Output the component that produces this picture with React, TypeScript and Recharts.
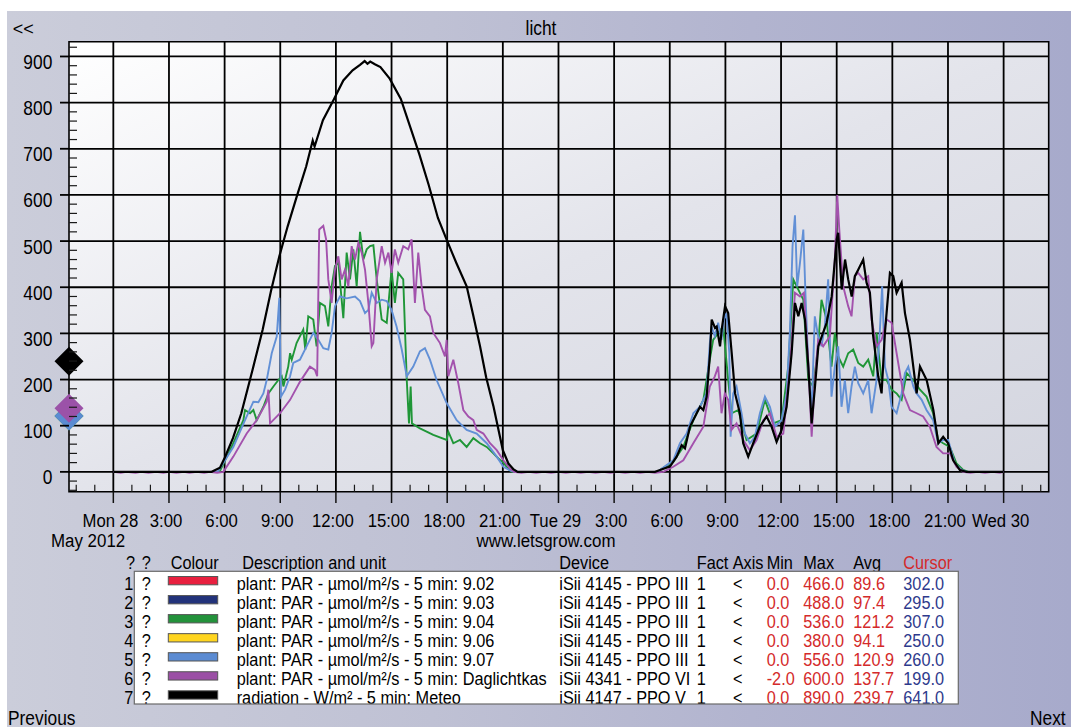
import React from 'react';
import { LineChart, Line, XAxis, YAxis, CartesianGrid, ReferenceDot, ReferenceArea } from 'recharts';

const FONT = '"Liberation Sans", Arial, Helvetica, sans-serif';

// ---------- axes ----------
const xDomain: [number, number] = [-2.39, 50.43];
const yDomain: [number, number] = [-43, 932];
const xTicks = [-2, -1, 0, 1, 2, 3, 4, 5, 6, 7, 8, 9, 10, 11, 12, 13, 14, 15, 16, 17, 18, 19, 20, 21, 22, 23, 24, 25, 26, 27, 28, 29, 30, 31, 32, 33, 34, 35, 36, 37, 38, 39, 40, 41, 42, 43, 44, 45, 46, 47, 48, 49, 50];
const xMajorHours = [0, 3, 6, 9, 12, 15, 18, 21, 24, 27, 30, 33, 36, 39, 42, 45, 48];
const xMajorLabels = ['Mon 28', '3:00', '6:00', '9:00', '12:00', '15:00', '18:00', '21:00', 'Tue 29', '3:00', '6:00', '9:00', '12:00', '15:00', '18:00', '21:00', 'Wed 30'];
const yTicks = [-40, -20, 0, 20, 40, 60, 80, 100, 120, 140, 160, 180, 200, 220, 240, 260, 280, 300, 320, 340, 360, 380, 400, 420, 440, 460, 480, 500, 520, 540, 560, 580, 600, 620, 640, 660, 680, 700, 720, 740, 760, 780, 800, 820, 840, 860, 880, 900, 920];
const yMajor = [0, 100, 200, 300, 400, 500, 600, 700, 800, 900];

// ---------- series (hours since Mon 28 00:00, value) ----------
const radiation: [number, number][] = [
  [0, 0], [3, 0], [5.3, 0], [5.5, 4], [5.75, 9], [6.0, 30], [6.45, 73], [6.9, 127], [7.5, 220], [8.05, 308], [8.5, 392], [8.95, 467],
  [9.4, 532], [9.9, 598], [10.4, 662], [10.75, 718], [10.85, 705], [11.3, 762], [11.9, 808], [12.4, 848], [12.9, 870], [13.3, 882],
  [13.55, 890], [13.7, 884], [13.85, 889], [14.1, 883], [14.4, 877], [14.9, 852], [15.5, 808], [16.0, 748], [16.5, 688], [17.0, 622],
  [17.5, 550], [17.97, 503], [18.5, 452], [19.05, 402], [19.4, 340], [19.77, 272], [20.1, 205], [20.5, 141], [21.0, 47], [21.3, 18],
  [21.56, 6], [21.8, 0], [24, 0], [27, 0], [29.2, 0],
  [29.48, 4], [30.02, 12], [30.37, 33], [30.64, 58], [30.82, 51], [31.09, 98], [31.45, 127], [31.63, 141], [31.81, 134], [31.99, 163],
  [32.17, 257], [32.26, 330], [32.44, 312], [32.53, 315], [32.71, 272], [32.8, 308], [32.98, 359], [33.15, 344], [33.34, 257],
  [33.52, 170], [33.78, 127], [33.96, 62], [34.23, 33], [34.5, 62], [34.86, 98], [35.22, 120], [35.49, 98], [35.76, 65], [36.03, 91],
  [36.3, 141], [36.57, 257], [36.75, 366], [36.93, 337], [37.11, 366], [37.29, 330], [37.47, 228], [37.65, 105], [37.83, 185],
  [38.01, 272], [38.19, 293], [38.46, 323], [38.73, 380], [39.0, 504], [39.08, 518], [39.27, 395], [39.45, 460], [39.62, 417],
  [39.81, 380], [39.98, 424], [40.16, 438], [40.43, 460], [40.61, 410], [40.79, 388], [40.97, 293], [41.24, 207], [41.42, 170],
  [41.6, 301], [41.87, 431], [42.05, 424], [42.23, 388], [42.5, 410], [42.68, 344], [42.95, 286], [43.31, 170], [43.49, 228],
  [43.85, 199], [44.21, 134], [44.48, 62], [44.74, 76], [45.01, 62], [45.28, 25], [45.64, 4], [46.0, 0], [48, 0],
];

const par907: [number, number][] = [
  [0, 0], [5.6, 0], [5.66, 2], [6.47, 54], [7.1, 112], [7.55, 152], [7.82, 151], [8.09, 170], [8.27, 199], [8.54, 257], [8.81, 293],
  [8.95, 377], [9.04, 163], [9.26, 178], [9.53, 207], [9.7, 236], [10.06, 243], [10.42, 272], [10.78, 301], [11.05, 286], [11.32, 268],
  [11.59, 265], [11.77, 301], [11.95, 359], [12.22, 380], [12.58, 376], [13.03, 380], [13.3, 370], [13.57, 344], [13.75, 351],
  [13.93, 388], [14.2, 366], [14.47, 373], [14.74, 370], [15.0, 351], [15.27, 315], [15.55, 265], [15.82, 207], [16.17, 228],
  [16.53, 261], [16.8, 268], [17.07, 243], [17.43, 199], [17.97, 149], [18.51, 112], [19.05, 91], [19.59, 83], [20.13, 62],
  [20.67, 33], [21.03, 11], [21.39, 3], [21.6, 0], [29.4, 0],
  [29.47, 4], [30.19, 25], [30.55, 62], [30.91, 83], [31.27, 127], [31.63, 141], [31.98, 170], [32.16, 279], [32.25, 315],
  [32.43, 294], [32.61, 323], [32.79, 286], [32.92, 330], [33.06, 344], [33.21, 257], [33.28, 76], [33.42, 170], [33.6, 185],
  [33.87, 127], [34.05, 83], [34.32, 62], [34.59, 76], [34.86, 127], [35.13, 163], [35.4, 141], [35.67, 98], [36.03, 112],
  [36.3, 170], [36.48, 308], [36.62, 489], [36.75, 556], [36.87, 402], [37.02, 453], [37.2, 525], [37.32, 380], [37.47, 228],
  [37.65, 134], [37.82, 337], [38.0, 294], [38.18, 272], [38.36, 315], [38.54, 417], [38.72, 163], [38.9, 228], [39.08, 272],
  [39.26, 141], [39.44, 199], [39.62, 127], [39.8, 185], [39.98, 228], [40.16, 192], [40.43, 170], [40.7, 199], [40.88, 127],
  [41.15, 199], [41.33, 308], [41.45, 402], [41.6, 228], [41.78, 199], [41.96, 141], [42.23, 127], [42.5, 170], [42.68, 214],
  [42.86, 228], [43.13, 185], [43.31, 170], [43.58, 156], [43.84, 134], [44.2, 112], [44.47, 62], [44.74, 69], [45.01, 69],
  [45.37, 18], [45.73, 4], [46.0, 0], [48, 0],
];

const par904: [number, number][] = [
  [0, 0], [5.7, 0], [5.75, 2], [6.47, 62], [7.01, 112], [7.1, 134], [7.37, 127], [7.55, 134], [7.73, 112], [8.09, 141], [8.36, 170],
  [8.63, 185], [8.9, 199], [9.08, 207], [9.17, 185], [9.43, 228], [9.53, 257], [9.62, 243], [9.88, 279], [10.24, 308], [10.35, 265],
  [10.51, 337], [10.78, 330], [10.96, 272], [11.14, 366], [11.41, 359], [11.59, 315], [11.77, 402], [11.95, 446], [12.13, 453],
  [12.4, 333], [12.58, 475], [12.76, 417], [12.94, 482], [13.12, 402], [13.3, 520], [13.48, 460], [13.66, 482], [13.84, 489],
  [14.02, 491], [14.2, 417], [14.47, 330], [14.74, 323], [15.0, 438], [15.18, 366], [15.36, 431], [15.63, 417], [15.82, 199],
  [15.94, 105], [16.03, 185], [16.1, 105], [16.53, 94], [17.25, 80], [17.97, 69], [18.06, 87], [18.33, 62], [18.69, 69],
  [19.05, 54], [19.41, 73], [19.77, 62], [20.13, 54], [20.49, 40], [20.76, 29], [21.03, 20], [21.3, 6], [21.5, 0], [29.4, 0],
  [29.47, 4], [30.19, 22], [30.73, 54], [31.27, 112], [31.81, 156], [32.16, 243], [32.34, 286], [32.61, 301], [32.88, 315],
  [33.15, 199], [33.33, 127], [33.69, 134], [34.14, 69], [34.68, 83], [35.13, 156], [35.58, 105], [36.03, 112], [36.39, 228],
  [36.66, 417], [36.93, 395], [37.2, 373], [37.47, 199], [37.74, 185], [38.0, 272], [38.18, 373], [38.45, 330], [38.72, 228],
  [38.9, 301], [39.08, 250], [39.35, 228], [39.62, 257], [39.89, 265], [40.16, 236], [40.43, 228], [40.7, 243], [40.97, 207],
  [41.15, 301], [41.42, 199], [41.69, 199], [41.96, 178], [42.23, 170], [42.5, 156], [42.77, 214], [43.13, 199], [43.49, 178],
  [43.84, 163], [44.2, 127], [44.47, 69], [44.74, 62], [45.1, 54], [45.46, 18], [45.82, 4], [46.1, 0], [48, 0],
];

const daglichtkas: [number, number][] = [
  [0, 0], [0.4, -2], [0.7, 0], [1.2, -2], [1.5, 0], [1.9, -2], [2.3, 0], [2.7, -2], [3.0, 0], [3.4, -2], [3.8, 0], [4.1, -2],
  [4.5, 0], [4.9, -2], [5.2, 0], [5.6, -2], [5.93, 0],
  [6.47, 33], [7.19, 83], [7.73, 112], [8.27, 152], [8.36, 178], [8.45, 105], [8.99, 127], [9.53, 156], [10.06, 195], [10.6, 228],
  [10.87, 221], [10.99, 207], [11.1, 525], [11.32, 533], [11.47, 504], [11.59, 417], [11.77, 366], [11.95, 438], [12.13, 467],
  [12.31, 417], [12.49, 438], [12.67, 402], [12.85, 489], [13.03, 460], [13.21, 496], [13.39, 475], [13.57, 438], [13.75, 366],
  [13.93, 272], [14.02, 279], [14.2, 417], [14.47, 489], [14.65, 453], [14.83, 475], [15.0, 431], [15.18, 482], [15.36, 453],
  [15.63, 489], [15.9, 482], [16.08, 504], [16.26, 366], [16.44, 475], [16.62, 402], [16.8, 351], [17.07, 337], [17.25, 301],
  [17.61, 279], [17.88, 250], [17.97, 286], [18.06, 207], [18.33, 243], [18.6, 192], [18.87, 134], [19.14, 120], [19.41, 112],
  [19.59, 91], [19.95, 83], [20.31, 62], [20.67, 47], [21.03, 25], [21.39, 7], [21.6, 0],
  [22.0, -2], [22.4, 0], [22.8, -2], [23.2, 0], [23.6, -2], [24.0, 0], [24.4, -2], [24.8, 0], [25.2, -2], [25.6, 0], [26.0, -2],
  [26.4, 0], [26.8, -2], [27.2, 0], [27.6, -2], [28.0, 0], [28.4, -2], [28.8, 0], [29.2, -2], [29.65, 0],
  [30.19, 11], [30.73, 25], [31.27, 62], [31.81, 98], [32.16, 185], [32.43, 207], [32.61, 228], [32.79, 127], [32.97, 170],
  [33.15, 156], [33.33, 91], [33.6, 105], [33.96, 69], [34.32, 47], [34.68, 69], [35.04, 112], [35.4, 127], [35.76, 76],
  [36.12, 83], [36.48, 228], [36.75, 388], [37.02, 380], [37.23, 388], [37.47, 236], [37.65, 76], [37.82, 199], [38.0, 286],
  [38.27, 272], [38.63, 294], [38.9, 460], [39.03, 600], [39.14, 525], [39.35, 402], [39.62, 359], [39.8, 337], [39.98, 424],
  [40.16, 431], [40.43, 417], [40.7, 424], [40.88, 330], [41.15, 272], [41.42, 286], [41.69, 330], [41.96, 323], [42.23, 257],
  [42.59, 170], [42.95, 134], [43.31, 127], [43.66, 120], [44.02, 98], [44.38, 54], [44.74, 40], [45.1, 40], [45.46, 11],
  [45.82, 0], [46.2, -2], [46.6, 0], [47.0, -2], [47.4, 0], [47.8, -2], [48, 0],
];

// ---------- legend table ----------
const legendColours = ['#e8203f', '#22327a', '#23923b', '#ffd51f', '#5b8bd2', '#9b4fa5', '#000000'];
const legendDescriptions = [
  'plant: PAR - µmol/m²/s - 5 min: 9.02',
  'plant: PAR - µmol/m²/s - 5 min: 9.03',
  'plant: PAR - µmol/m²/s - 5 min: 9.04',
  'plant: PAR - µmol/m²/s - 5 min: 9.06',
  'plant: PAR - µmol/m²/s - 5 min: 9.07',
  'plant: PAR - µmol/m²/s - 5 min: Daglichtkas',
  'radiation - W/m² - 5 min: Meteo',
];
const legendDevices = ['iSii 4145 - PPO III', 'iSii 4145 - PPO III', 'iSii 4145 - PPO III', 'iSii 4145 - PPO III', 'iSii 4145 - PPO III', 'iSii 4341 - PPO VI', 'iSii 4147 - PPO V'];
const legendMin = ['0.0', '0.0', '0.0', '0.0', '0.0', '-2.0', '0.0'];
const legendMax = ['466.0', '488.0', '536.0', '380.0', '556.0', '600.0', '890.0'];
const legendAvg = ['89.6', '97.4', '121.2', '94.1', '120.9', '137.7', '239.7'];
const legendCursor = ['302.0', '295.0', '307.0', '250.0', '260.0', '199.0', '641.0'];

const toPoints = (arr: [number, number][]) => arr.map(([h, v]) => ({ h, v }));

const seriesDefs = [
  { name: '9.04', data: toPoints(par904), color: '#1f9637', marker: '#23923b', width: 1.9, idx: 2 },
  { name: '9.07', data: toPoints(par907), color: '#6290d6', marker: '#5b8bd2', width: 1.9, idx: 4 },
  { name: 'Daglichtkas', data: toPoints(daglichtkas), color: '#a352ad', marker: '#9b52a8', width: 1.9, idx: 5 },
  { name: 'Meteo', data: toPoints(radiation), color: '#000000', marker: '#000000', width: 2.2, idx: 6 },
];

function T({ x, y, children, anchor = 'start', size = 18.5, sx = 0.88, fill = '#000' }: any) {
  return (
    <text transform={`translate(${x} ${y}) scale(${sx} 1)`} x={0} y={0} textAnchor={anchor} fontSize={size} fontFamily={FONT} fill={fill}>
      {children}
    </text>
  );
}

const XTick = (props: any) => {
  const { x, y, payload } = props;
  const i = xMajorHours.indexOf(payload.value);
  if (i < 0) return <line x1={x} x2={x} y1={y} y2={y - 7} stroke="#1a1a1a" strokeWidth={1.2} />;
  return (
    <g>
      <line x1={x} x2={x} y1={y} y2={y + 11.3} stroke="#111" strokeWidth={1.5} />
      <T x={x - 3} y={y + 35.3} anchor="middle" size={19} sx={0.88}>{xMajorLabels[i]}</T>
    </g>
  );
};

const YTick = (props: any) => {
  const { x, y, payload } = props;
  const v = payload.value;
  if (yMajor.indexOf(v) < 0) return <line x1={x} x2={x + 8} y1={y} y2={y} stroke="#1a1a1a" strokeWidth={1.2} />;
  return (
    <g>
      <line x1={x - 9} x2={x} y1={y} y2={y} stroke="#000" strokeWidth={1.8} />
      <T x={x - 16.7} y={y + 12.5} anchor="end" size={19.5} sx={0.89}>{String(v)}</T>
    </g>
  );
};

const Diamond = (color: string) => (props: any) => {
  const { cx, cy } = props;
  const r = 14.5;
  return <path d={`M${cx},${cy - r} L${cx + r},${cy} L${cx},${cy + r} L${cx - r},${cy} Z`} fill={color} />;
};

export default function App() {
  const rowY = (i: number) => 579 + i * 19.05;
  return (
    <div
      style={{
        position: 'absolute',
        left: 7,
        top: 11,
        width: 1064,
        height: 716,
        overflow: 'hidden',
        background: 'linear-gradient(90deg, #cbcdda 0%, #bfc1d4 40%, #b2b4cf 70%, #a7aacb 100%)',
      }}
    >
      <svg width={0} height={0} style={{ position: 'absolute' }}>
        <defs>
          <linearGradient id="plotBg" x1="0" y1="0" x2="1" y2="1">
            <stop offset="0%" stopColor="#ffffff" />
            <stop offset="50%" stopColor="#e3e4eb" />
            <stop offset="100%" stopColor="#d3d5df" />
          </linearGradient>
        </defs>
      </svg>
      <LineChart width={1064} height={716} margin={{ top: 30.7, right: 22.3, bottom: 195.3, left: 7 }}>
        <CartesianGrid
          fill="url(#plotBg)"
          fillOpacity={1}
          horizontalValues={yMajor}
          verticalValues={xMajorHours}
          stroke="#000"
          strokeWidth={1.8}
        />
        <XAxis
          type="number"
          dataKey="h"
          domain={xDomain}
          ticks={xTicks}
          interval={0}
          allowDataOverflow
          tickSize={0}
          tickMargin={0}
          axisLine={false}
          tickLine={false}
          tick={<XTick />}
          height={40}
        />
        <YAxis
          type="number"
          domain={yDomain}
          ticks={yTicks}
          interval={0}
          allowDataOverflow
          tickSize={0}
          tickMargin={0}
          axisLine={false}
          tickLine={false}
          tick={<YTick />}
          width={55}
        />
        {seriesDefs.map((s) => (
          <Line
            key={s.name}
            data={s.data}
            dataKey="v"
            type="linear"
            stroke={s.color}
            strokeWidth={s.width}
            dot={false}
            activeDot={false}
            isAnimationActive={false}
          />
        ))}
        <ReferenceArea x1={xDomain[0]} x2={xDomain[1]} y1={yDomain[0]} y2={yDomain[1]} fill="none" fillOpacity={0} stroke="#000" strokeWidth={1.6} ifOverflow="visible" />
        {seriesDefs.map((s) => (
          <ReferenceDot
            key={'d' + s.name}
            x={xDomain[0]}
            y={Number(legendAvg[s.idx])}
            r={14}
            ifOverflow="visible"
            shape={Diamond(s.marker)}
          />
        ))}
      </LineChart>

      <svg width={1064} height={716} style={{ position: 'absolute', left: 0, top: 0, pointerEvents: 'none' }}>
        <T x={5.7} y={24} size={18} sx={1}>{'<<'}</T>
        <T x={534} y={24} anchor="middle" size={19.5} sx={0.89}>licht</T>
        <T x={44} y={536} size={19} sx={0.89}>May 2012</T>
        <T x={539} y={536} anchor="middle" size={19} sx={0.89}>www.letsgrow.com</T>

        {/* header */}
        <T x={119} y={558}>?</T>
        <T x={134.7} y={558}>?</T>
        <T x={163.7} y={558}>Colour</T>
        <T x={235.3} y={558}>Description and unit</T>
        <T x={552.3} y={558}>Device</T>
        <T x={689.7} y={558}>Fact</T>
        <T x={725.7} y={558}>Axis</T>
        <T x={759.7} y={558}>Min</T>
        <T x={796.3} y={558}>Max</T>
        <T x={846.3} y={558}>Avg</T>
        <T x={896.3} y={558} fill="#d42a2a">Cursor</T>

        <rect x={127.3} y={560.3} width={824} height={132.7} fill="#ffffff" />
        {legendDescriptions.map((d, i) => (
          <g key={i}>
            <T x={126.3} y={rowY(i)} anchor="end">{String(i + 1)}</T>
            <T x={134.7} y={rowY(i)}>?</T>
            <rect x={161.3} y={rowY(i) - 13.5} width={49.4} height={8.3} fill={legendColours[i]} stroke="#555" strokeWidth={1} />
            <T x={229.7} y={rowY(i)}>{d}</T>
            <T x={552.3} y={rowY(i)}>{legendDevices[i]}</T>
            <T x={689.7} y={rowY(i)}>1</T>
            <T x={726} y={rowY(i)}>{'<'}</T>
            <T x={759.7} y={rowY(i)} fill="#d42a2a">{legendMin[i]}</T>
            <T x={796.3} y={rowY(i)} fill="#d42a2a">{legendMax[i]}</T>
            <T x={846.3} y={rowY(i)} fill="#d42a2a">{legendAvg[i]}</T>
            <T x={896.3} y={rowY(i)} fill="#2e3a8c">{legendCursor[i]}</T>
          </g>
        ))}
        <rect x={127.3} y={560.3} width={824} height={132.7} fill="none" stroke="#6a6a6a" strokeWidth={1.2} />

        <T x={1} y={714} size={19.5} sx={0.89}>Previous</T>
        <T x={1023} y={714} size={19.5} sx={0.89}>Next</T>
      </svg>
    </div>
  );
}
